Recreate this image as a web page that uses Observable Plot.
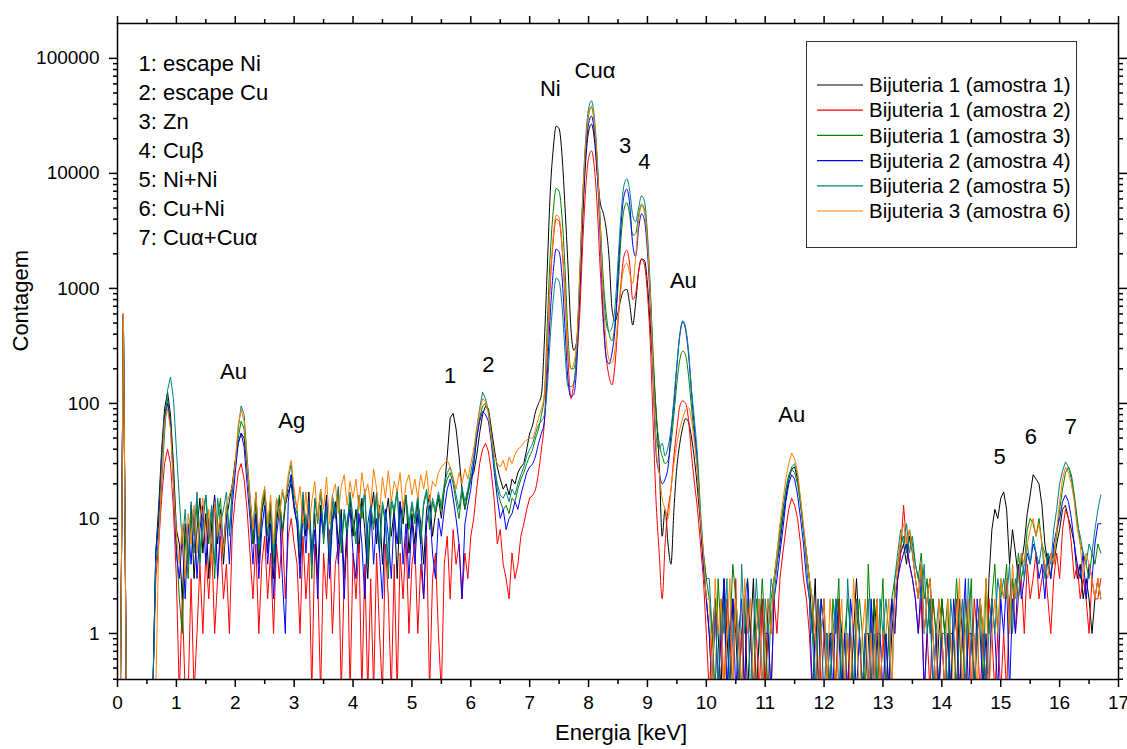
<!DOCTYPE html>
<html>
<head>
<meta charset="utf-8">
<script src="https://cdn.jsdelivr.net/npm/d3@7"></script>
<script src="https://cdn.jsdelivr.net/npm/@observablehq/plot@0.6"></script>
<style>
  html, body { margin: 0; padding: 0; background: #fff; }
  #chart { width: 1127px; height: 749px; }
</style>
</head>
<body>
<div id="chart"></div>
<script>
// ---------- DATA ----------
// energy grid (keV), one channel every 0.05 keV from 0.05 to 17.00
const energyStart = 0.05, energyStep = 0.05, channelCount = 340;
const energy = d3.range(channelCount).map(i => Math.round((energyStart + i * energyStep) * 100) / 100);

const seriesNames = [
  "Bijuteria 1 (amostra 1)", "Bijuteria 1 (amostra 2)", "Bijuteria 1 (amostra 3)",
  "Bijuteria 2 (amostra 4)", "Bijuteria 2 (amostra 5)", "Bijuteria 3 (amostra 6)"
];
const seriesColors = ["#000000", "#ff0000", "#008000", "#0000ff", "#008080", "#ff8000"];

const _ = null;
// counts per channel (rows of 20 channels = 1 keV)
const amostra1 = [
  0,600,0,0,0,0,0,0,0,0,0,0,5,13,40,90,125,80,30,8,
  6,2,9,4,13,3,8,15,5,11,3,9,16,6,12,4,10,14,20,32,
  45,55,50,28,14,6,15,4,11,16,5,12,3,9,15,7,13,17,20,12,
  9,4,14,7,17,5,11,3,13,8,16,4,10,14,6,12,3,9,15,7,
  12,5,15,8,3,11,17,6,13,4,10,15,7,12,3,14,9,16,5,11,
  6,14,9,4,12,16,7,11,15,10,18,35,75,82,60,35,18,12,17,22,
  25,35,55,80,95,90,60,40,28,22,18,20,16,22,20,25,28,30,40,55,
  65,85,100,120,350,1550,7000,16300,25700,24400,14200,5100,1600,450,290,350,900,4000,12500,23000,
  26800,19500,9500,5500,4500,3300,1800,650,520,620,820,960,980,720,480,750,1400,1800,1750,1100,
  450,200,80,30,7,12,6,4,12,28,45,62,74,68,50,32,18,9,4,2,
  1,0,2,1,0,3,1,0,2,1,0,1,2,0,1,3,0,1,2,0,
  2,1,3,4,6,10,15,22,27,28,22,14,8,5,3,1,3,0,1,2,
  0,1,1,0,2,1,0,1,0,1,3,1,0,1,1,0,2,1,0,1,
  1,0,1,2,3,5,6,4,7,5,3,2,4,1,2,3,1,0,1,2,
  1,0,1,1,0,2,1,0,1,1,0,1,2,1,0,3,8,12,10,15,
  17,12,4,8,5,3,4,6,11,16,24,22,20,13,6,4,5,4,6,8,
  12,13,10,8,6,3,4,2,3,2,1,2,3,2,_,_,_,_,_,_
];
const amostra2 = [
  0,600,0,0,0,0,0,0,0,0,0,0,3,6,15,30,40,30,12,3,
  0,2,0,0,3,0,1,4,1,5,2,6,1,3,7,2,4,1,8,15,
  25,30,22,12,5,2,6,1,4,7,2,5,1,6,3,8,2,7,10,6,
  4,1,7,2,5,0,6,3,0,5,2,8,1,4,6,0,3,7,0,5,
  2,6,0,4,0,3,0,5,1,0,6,2,0,4,0,5,2,7,1,4,
  6,1,4,2,7,0,3,5,1,0,4,7,2,8,4,6,2,5,3,7,
  10,18,30,40,45,38,25,14,6,8,4,3,2,5,3,4,7,9,12,15,
  16,18,25,40,70,280,1100,2600,4000,3850,2250,850,250,110,150,250,600,2400,7200,13500,
  15700,11000,4800,1400,500,250,170,145,220,500,1100,1900,2150,1600,800,900,1400,1800,1600,900,
  320,60,13,5,2,6,12,18,35,60,95,105,100,70,35,20,12,6,3,1,
  0,1,2,0,1,0,2,1,0,3,0,1,0,2,1,0,1,0,2,0,
  1,0,2,1,3,5,8,12,15,13,10,6,3,2,1,0,1,2,0,1,
  1,0,1,0,2,0,1,0,1,0,2,1,0,1,0,1,0,2,0,1,
  0,1,2,1,3,5,13,6,4,3,2,1,2,0,1,0,2,1,0,1,
  0,1,0,1,2,0,1,0,1,0,2,1,0,1,0,2,1,0,1,0,
  1,0,2,3,1,2,3,1,4,2,3,5,2,3,4,2,1,3,5,3,
  8,12,10,6,3,4,2,3,2,1,3,2,2,3,_,_,_,_,_,_
];
const amostra3 = [
  0,600,0,0,0,0,0,0,0,0,0,0,5,10,35,80,110,70,25,6,
  2,1,7,3,11,5,14,4,9,16,6,12,3,10,15,5,13,8,17,28,
  50,70,60,30,13,6,16,5,12,17,7,14,4,11,16,8,14,19,24,13,
  11,5,16,8,13,3,15,9,17,6,12,4,14,10,18,5,11,7,16,9,
  6,15,10,17,4,12,8,16,5,13,9,3,14,11,17,6,12,15,8,13,
  9,15,6,13,17,8,14,11,16,12,18,22,25,20,14,10,17,12,16,22,
  30,50,75,95,100,85,55,30,18,14,12,13,11,15,14,18,22,25,30,35,
  40,50,60,80,120,500,2000,4700,7400,7000,4100,1500,400,200,200,330,1200,5600,17000,32000,
  37600,26600,11500,3500,1200,600,400,350,500,1000,2700,4800,5550,4300,2900,3000,4300,5400,4800,2600,
  900,250,80,45,35,30,32,45,80,150,240,285,260,170,90,50,25,10,5,3,
  2,1,0,3,1,2,0,1,4,2,1,0,2,3,1,0,2,1,3,1,
  0,2,3,5,8,12,18,24,27,25,20,13,8,5,3,2,0,1,2,1,
  1,0,2,1,3,0,1,2,1,0,1,2,1,0,4,1,2,0,1,3,
  0,1,2,3,4,6,7,5,8,6,4,3,5,2,3,1,2,1,0,2,
  1,2,0,1,3,1,0,2,1,3,0,1,2,0,3,1,2,4,1,3,
  2,4,1,3,2,5,3,4,8,10,9,7,10,6,5,4,3,5,7,12,
  18,25,28,24,16,10,6,5,4,3,5,4,6,5,_,_,_,_,_,_
];
const amostra4 = [
  0,600,0,0,0,0,0,0,0,0,0,0,5,9,30,75,100,65,20,5,
  3,7,2,9,4,12,3,8,13,4,10,5,15,3,9,6,11,4,13,25,
  45,55,42,20,10,4,11,3,8,13,4,9,2,7,12,3,1,14,24,13,
  9,3,12,5,14,4,8,2,11,7,15,3,9,13,4,10,2,8,12,5,
  3,11,6,2,9,13,4,10,5,2,12,7,3,11,6,14,4,9,3,10,
  4,11,6,2,9,13,5,3,10,7,12,18,22,15,10,6,2,9,13,18,
  30,50,70,85,80,70,45,25,15,10,12,8,10,11,14,12,16,20,25,28,
  30,35,45,55,70,180,600,1400,2200,2080,1250,450,160,115,120,220,1000,4700,14400,27000,
  31500,22300,9600,2600,600,250,220,280,450,1300,3500,6300,7300,5300,2400,1900,3300,4450,3900,2100,
  700,140,35,25,20,22,28,55,100,210,390,510,430,260,120,60,30,10,4,2,
  1,0,2,0,1,3,0,1,2,0,1,2,0,3,1,0,1,2,0,1,
  1,0,2,3,5,8,14,20,24,22,16,10,6,3,2,0,1,0,2,1,
  0,1,0,2,1,0,1,0,2,1,0,1,0,1,0,2,0,1,1,0,
  1,0,2,1,3,4,5,6,4,3,2,1,3,0,1,2,0,1,0,1,
  0,1,0,2,1,0,1,3,0,1,0,2,1,0,1,0,2,1,0,2,
  1,3,0,2,1,4,2,3,5,4,6,5,3,4,2,5,3,6,8,10,
  14,16,14,10,6,4,3,5,2,4,3,6,9,9,_,_,_,_,_,_
];
const amostra5 = [
  0,600,0,0,0,0,0,0,0,0,0,0,4,7,20,55,130,170,110,40,
  15,6,12,4,14,7,17,5,11,16,8,13,4,15,9,12,17,7,18,30,
  60,95,80,35,16,8,17,6,14,18,9,13,5,15,11,17,13,22,30,16,
  12,6,17,9,14,4,15,10,18,7,13,5,16,11,19,6,12,8,17,10,
  7,16,11,18,5,13,9,17,6,14,10,4,15,12,18,7,13,16,9,14,
  10,16,7,14,18,9,15,12,17,13,20,25,28,22,16,12,19,14,18,25,
  35,60,90,125,110,85,50,28,20,16,15,17,14,18,16,20,24,28,35,40,
  45,55,65,70,80,140,380,800,1230,1150,700,280,140,140,150,300,1350,6300,19500,36500,
  42800,30000,13000,3600,1000,500,420,460,700,1700,4300,7800,9000,7000,4300,3800,5000,6400,5700,3000,
  950,180,50,40,45,35,42,60,110,220,400,525,450,280,130,70,35,12,5,3,
  3,1,2,0,2,1,3,0,1,2,0,4,1,2,0,1,3,1,0,2,
  1,3,2,4,7,11,17,23,28,30,24,14,8,4,2,1,0,2,1,0,
  1,0,1,2,0,1,0,3,1,0,2,1,0,1,2,0,1,0,2,1,
  2,1,0,3,5,8,6,9,5,7,4,3,2,4,1,2,0,1,2,1,
  1,0,2,1,0,1,2,0,3,1,0,1,2,1,0,1,2,1,3,2,
  3,2,4,1,3,2,5,3,6,4,7,5,4,6,3,5,4,8,12,20,
  26,31,28,22,15,9,7,5,4,6,5,8,12,16,_,_,_,_,_,_
];
const amostra6 = [
  0,600,0,0,0,0,0,0,0,0,0,0,0,6,25,70,90,60,20,7,
  4,9,3,11,6,13,5,10,15,6,12,4,14,7,11,5,13,16,19,30,
  65,88,70,32,15,8,17,7,14,19,9,16,6,15,10,18,14,24,32,18,
  12,19,9,17,8,14,21,10,18,12,23,9,16,20,11,19,24,13,21,15,
  22,12,25,16,20,13,27,18,11,23,15,26,14,21,17,25,12,20,24,16,
  22,15,24,18,26,14,21,19,25,28,30,32,28,23,18,25,20,27,22,30,
  40,60,85,110,105,80,50,35,30,28,32,26,34,30,36,40,42,46,48,50,
  50,60,75,90,120,350,1200,2800,4350,4100,2400,900,300,200,225,350,1300,5800,17700,33200,
  38600,27300,11800,3300,800,350,240,225,300,550,1000,1500,1650,1350,1100,1900,3900,5200,4600,2500,
  800,170,40,25,15,12,10,18,30,45,60,75,88,92,70,45,25,10,5,2,
  2,0,3,1,2,0,1,3,0,2,1,0,3,1,2,0,1,2,0,1,
  2,1,3,5,9,14,22,30,37,33,25,15,9,5,3,2,1,0,1,2,
  0,2,1,0,1,2,0,1,0,3,1,0,1,2,0,1,0,2,0,1,
  1,2,0,2,4,7,9,6,8,5,3,2,4,1,2,3,1,0,2,1,
  0,2,1,0,1,3,0,1,2,0,1,0,2,1,3,0,1,2,1,3,
  2,3,1,4,2,3,5,4,6,8,10,7,9,6,4,3,5,4,8,14,
  22,28,25,20,14,8,6,3,5,4,3,2,3,2,_,_,_,_,_,_
];
const seriesValues = [amostra1, amostra2, amostra3, amostra4, amostra5, amostra6];

// peak labels: text, energy (keV), count
const peakLabels = ["Au", "Ag", "1", "2", "Ni", "Cu\u03b1", "3", "4", "Au", "Au", "5", "6", "7"];
const peakEnergy = [1.97, 2.96, 5.65, 6.30, 7.35, 8.11, 8.62, 8.95, 9.61, 11.45, 14.98, 15.51, 16.19];
const peakCount  = [186, 71, 172, 214, 53700, 77000, 17200, 12500, 1150, 80, 34, 51, 62];

// key of numbered peaks
const keyLines = ["1: escape Ni", "2: escape Cu", "3: Zn", "4: Cu\u03b2", "5: Ni+Ni", "6: Cu+Ni", "7: Cu\u03b1+Cu\u03b1"];

// axis ticks
const xMajorTicks = d3.range(0, 18);
const xMinorTicks = d3.range(0.5, 17, 1);
const yMajorTicks = [1, 10, 100, 1000, 10000, 100000];
const yMinorTicks = [];
for (const dec of [0.1, 1, 10, 100, 1000, 10000, 100000]) for (let k = 2; k <= 9; k++) {
  const v = k * dec; if (v > 0.398 && v < 200000) yMinorTicks.push(+v.toPrecision(3));
}

// ---------- CHART ----------
const FONT = "'Liberation Sans', Arial, Helvetica, sans-serif";
const floorCount = 0.3; // zero counts fall below the frame and get clipped
const peakZone = [7.0, 9.9]; // strong, well-sampled peaks drawn smoothly

const lineMarks = [];
seriesValues.forEach((vals, s) => {
  const rows = energy.map((E, i) => ({E, c: vals[i]})).filter(d => d.c != null);
  const common = {x: "E", y: d => Math.max(d.c, floorCount), stroke: seriesColors[s], strokeWidth: 1, clip: true};
  lineMarks.push(Plot.line(rows.filter(d => d.E <= peakZone[0]), common));
  lineMarks.push(Plot.line(rows.filter(d => d.E >= peakZone[0] && d.E <= peakZone[1]), {...common, curve: "monotone-x"}));
  lineMarks.push(Plot.line(rows.filter(d => d.E >= peakZone[1]), common));
});

const axisCommon = {label: null, strokeWidth: 1.5};
const chart = Plot.plot({
  width: 1127, height: 749,
  marginLeft: 117, marginRight: 9, marginTop: 23, marginBottom: 70,
  x: {domain: [0, 17]},
  y: {type: "log", domain: [0.398, 201000]},
  style: {fontFamily: FONT, fontSize: "19px", background: "#fff", color: "#000", overflow: "visible"},
  marks: [
    ...lineMarks,
    Plot.frame({stroke: "#000", strokeWidth: 1.5}),
    Plot.axisX({...axisCommon, anchor: "bottom", ticks: xMajorTicks, tickSize: 8, tickPadding: 8, tickFormat: d => String(d), fontSize: 19}),
    Plot.axisX({...axisCommon, anchor: "bottom", ticks: xMinorTicks, tickSize: 5, tickFormat: () => ""}),
    Plot.axisX({...axisCommon, anchor: "top", ticks: xMajorTicks, tickSize: 8, tickFormat: () => ""}),
    Plot.axisX({...axisCommon, anchor: "top", ticks: xMinorTicks, tickSize: 5, tickFormat: () => ""}),
    Plot.axisY({...axisCommon, anchor: "left", ticks: yMajorTicks, tickSize: 8, tickPadding: 10, tickFormat: d => String(d), fontSize: 19}),
    Plot.axisY({...axisCommon, anchor: "left", ticks: yMinorTicks, tickSize: 4, tickFormat: () => ""}),
    Plot.axisY({...axisCommon, anchor: "right", ticks: yMajorTicks, tickSize: 8, tickFormat: () => ""}),
    Plot.axisY({...axisCommon, anchor: "right", ticks: yMinorTicks, tickSize: 4, tickFormat: () => ""}),
    Plot.text(d3.range(peakLabels.length), {
      x: i => peakEnergy[i], y: i => peakCount[i], text: i => peakLabels[i],
      fontSize: 22, fill: "#000", textAnchor: "middle", lineAnchor: "middle"
    }),
    Plot.text([keyLines.join("\n")], {
      frameAnchor: "top-left", dx: 21, dy: 27, lineAnchor: "top", textAnchor: "start",
      lineHeight: 29 / 22, fontSize: 22, fill: "#000"
    }),
    Plot.text(["Energia [keV]"], {frameAnchor: "bottom", dy: 60, dx: 3, fontSize: 22, fill: "#000"}),
    Plot.text(["Contagem"], {frameAnchor: "left", dx: -97, rotate: -90, fontSize: 22, fill: "#000"})
  ]
});
document.getElementById("chart").appendChild(chart);

// ---------- LEGEND (boxed, top right) ----------
const svg = d3.select(chart);
const lg = svg.append("g").attr("font-family", FONT).attr("font-size", 20.5).attr("text-anchor", "start");
lg.append("rect").attr("x", 806.5).attr("y", 41.5).attr("width", 270).attr("height", 206)
  .attr("fill", "#fff").attr("stroke", "#333").attr("stroke-width", 1);
seriesNames.forEach((name, i) => {
  const y = 85 + i * 25.2;
  lg.append("line").attr("x1", 817).attr("x2", 863).attr("y1", y).attr("y2", y)
    .attr("stroke", seriesColors[i]).attr("stroke-width", 1.2);
  lg.append("text").attr("x", 869).attr("y", y).attr("dy", "0.35em")
    .attr("text-anchor", "start").attr("fill", "#000").text(name);
});
</script>
</body>
</html>
